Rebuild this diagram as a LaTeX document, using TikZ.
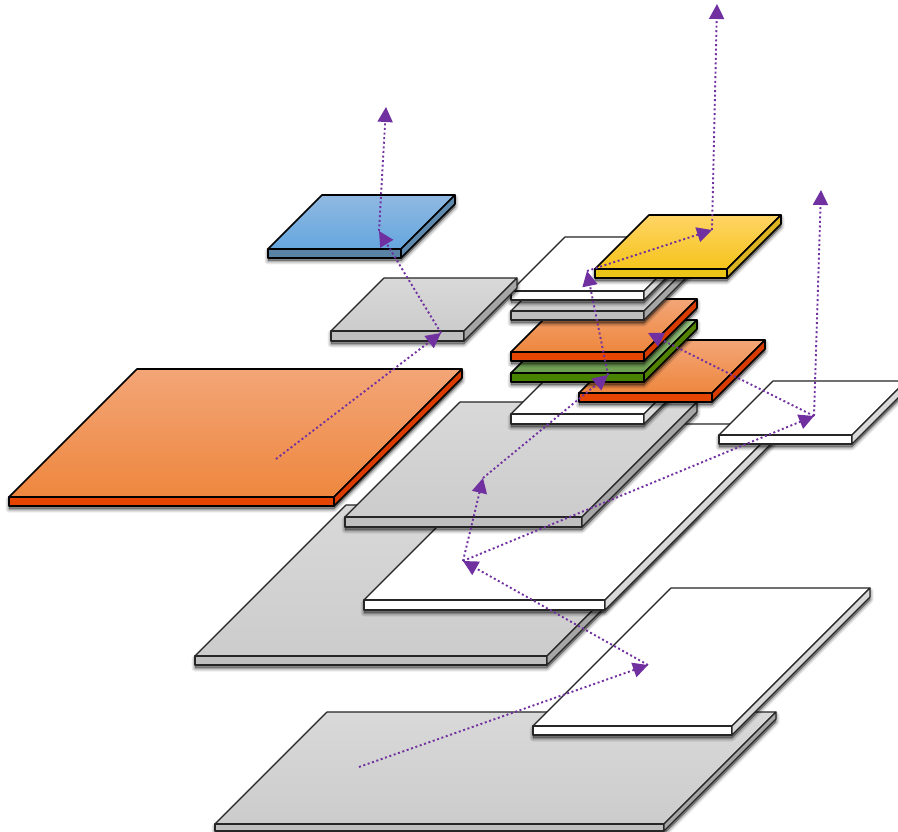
\documentclass[tikz,border=0pt]{standalone}
\usetikzlibrary{arrows.meta}
\definecolor{arrowpurple}{HTML}{7030A0}
\tikzset{
  flow/.style={arrowpurple,line width=1.9pt,dash pattern=on 2pt off 2.6pt,
    -{Triangle[length=15pt,width=15pt]},shorten >=0pt},
  edgeN/.style={draw=black!85,line width=1.1pt,line join=round},
  edgeC/.style={draw=black,line width=1.6pt,line join=round},
  topGray/.style={top color=gray!30!white,bottom color=black!20,edgeN},
  topWhite/.style={fill=white,edgeN},
  topOrange/.style={top color=orA,middle color=orB,bottom color=orC,edgeC},
  topBlue/.style={top color=blA,bottom color=blB,edgeC},
  topYellow/.style={top color=yeA,middle color=yeB,bottom color=yeC,edgeC},
  topGreen/.style={top color=grA,bottom color=grB,edgeC},
}
\definecolor{orA}{HTML}{F3A577}\definecolor{orB}{HTML}{F7994F}\definecolor{orC}{HTML}{EE873E}
\definecolor{blA}{HTML}{90B9E2}\definecolor{blB}{HTML}{65A6DE}
\definecolor{yeA}{HTML}{FFD465}\definecolor{yeB}{HTML}{FFD333}\definecolor{yeC}{HTML}{F5C41C}
\definecolor{grA}{HTML}{9CC883}\definecolor{grB}{HTML}{6C9E4E}
% #1 x, #2 y (front top-left), #3 width, #4 depth, #5 thickness, #6 top style, #7 front, #8 side, #9 edge style
\newcommand\slab[9]{%
  \foreach \wd/\op in {7/.07,5/.09,3/.11,1/.14}{
    \fill[black,opacity=\op,draw=black,line width=\wd pt,line join=round]
      (#1,#2+#5+3) -- ++(#3,0) -- ++(#4,-#4) -- ++(0,-#5) -- ++(-#3,0) -- ++(-#4,#4) -- cycle;
  }
  \path[#6] (#1,#2) -- ++(#3,0) -- ++(#4,-#4) -- ++(-#3,0) -- cycle;
  \path[#9,fill=#7] (#1,#2) -- ++(#3,0) -- ++(0,#5) -- ++(-#3,0) -- cycle;
  \path[#9,fill=#8] (#1+#3,#2) -- ++(#4,-#4) -- ++(0,#5) -- ++(-#4,#4) -- cycle;
}
\begin{document}
\begin{tikzpicture}[x=1pt,y=-1pt]
\useasboundingbox (0,0) rectangle (898,832);
\clip (0,0) rectangle (898,832);
% bottom layers
\slab{215}{824}{449}{112}{7}{topGray}{black!25}{black!35}{edgeN}
\slab{533}{726}{199}{138}{9}{topWhite}{white}{black!15}{edgeN}
\slab{195}{656}{352}{151}{9}{topGray}{black!25}{black!35}{edgeN}
\slab{364}{600}{241}{176}{10}{topWhite}{white}{black!15}{edgeN}
\slab{345}{517}{237}{115}{10}{topGray}{black!25}{black!35}{edgeN}
\slab{719}{435}{133}{54}{9}{topWhite}{white}{black!15}{edgeN}
\slab{9}{497}{325}{128}{9}{topOrange}{orange!60!red!90!black}{orange!55!red!85!black}{edgeC}
% middle stack
\slab{511}{414}{133}{54}{10}{topWhite}{white}{black!15}{edgeN}
\slab{579}{393}{133}{53}{9}{topOrange}{orange!60!red!90!black}{orange!55!red!85!black}{edgeC}
\slab{511}{373}{133}{53}{9}{topGreen}{green!45!black!65!yellow!80!black}{green!40!black!60!yellow!80!black}{edgeC}
\slab{511}{352}{133}{53}{9}{topOrange}{orange!60!red!90!black}{orange!55!red!85!black}{edgeC}
\slab{511}{311}{133}{53}{9}{topGray}{black!25}{black!35}{edgeN}
\slab{511}{291}{133}{54}{9}{topWhite}{white}{black!15}{edgeN}
\slab{595}{269}{132}{54}{9}{topYellow}{yellow!70!orange!92!black}{yellow!60!orange!85!black}{edgeC}
% upper left
\slab{331}{331}{133}{53}{10}{topGray}{black!25}{black!35}{edgeN}
\slab{268}{249}{133}{54}{9}{topBlue}{blB!70!black!90}{blB!75!black!90}{edgeC}
% flow points
\coordinate (startA) at (276,459);
\coordinate (grayTop) at (441,333);
\coordinate (blueTop) at (379,231);
\coordinate (exitA) at (386,107);
\coordinate (startB) at (359,767);
\coordinate (whiteLow) at (648,665);
\coordinate (whiteMid) at (463,561);
\coordinate (grayMid) at (483,478);
\coordinate (whiteRight) at (814,416);
\coordinate (orangeTop) at (648,333);
\coordinate (exitC) at (821,190);
\coordinate (stackLow) at (608,375);
\coordinate (stackTop) at (587,271);
\coordinate (yellowTop) at (712,230);
\coordinate (exitB) at (717,4);
\draw[flow] (startA) -- (grayTop);
\draw[flow] (grayTop) -- (blueTop);
\draw[flow] (blueTop) -- (exitA);
\draw[flow] (startB) -- (whiteLow);
\draw[flow] (whiteLow) -- (whiteMid);
\draw[flow] (whiteMid) -- (grayMid);
\draw[flow] (whiteMid) -- (whiteRight);
\draw[flow] (whiteRight) -- (orangeTop);
\draw[flow] (whiteRight) -- (exitC);
\draw[flow] (grayMid) -- (stackLow);
\draw[flow] (stackLow) -- (stackTop);
\draw[flow] (stackTop) -- (yellowTop);
\draw[flow] (yellowTop) -- (exitB);
\end{tikzpicture}
\end{document}
